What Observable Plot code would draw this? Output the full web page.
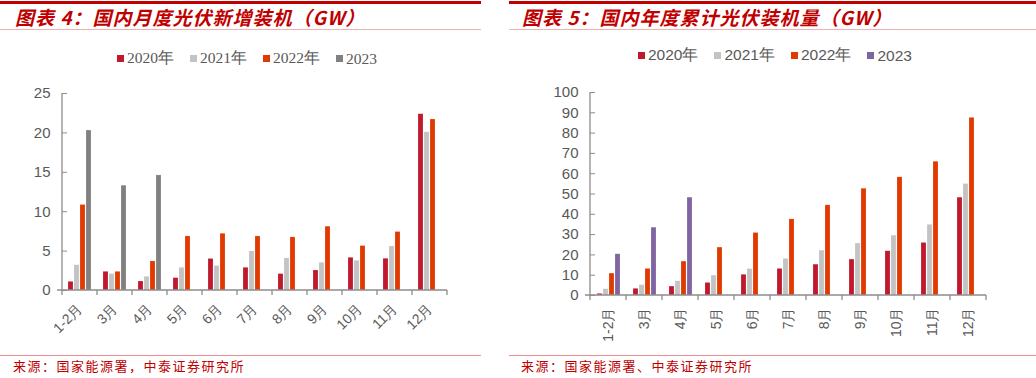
<!DOCTYPE html>
<html><head><meta charset="utf-8">
<script src="https://cdn.jsdelivr.net/npm/d3@7"></script>
<script src="https://cdn.jsdelivr.net/npm/@observablehq/plot@0.6"></script>
<style>
html,body{margin:0;padding:0;background:#fff;width:1036px;height:378px;overflow:hidden;position:relative;}
.abs{position:absolute;}
.title{font-family:"Noto Sans CJK SC",sans-serif;font-weight:bold;font-style:italic;color:#c00000;font-size:19px;letter-spacing:1.0px;white-space:nowrap;}
.src{font-family:"Noto Sans CJK SC",sans-serif;color:#c00000;font-size:13px;letter-spacing:1.5px;white-space:nowrap;}
.legend{display:flex;align-items:center;color:#595959;white-space:nowrap;}
.legend .sw{display:inline-block;width:7px;height:7px;margin-right:3px;}
.legend .it{display:flex;align-items:center;}
</style></head>
<body>
<script>
// ---------- data ----------
const months = ["1-2月","3月","4月","5月","6月","7月","8月","9月","10月","11月","12月"];
const years = ["2020年","2021年","2022年","2023"];
const monthly2020 = [1.1,2.37,1.14,1.57,4.0,2.88,2.08,2.54,4.15,4.03,22.37];
const monthly2021 = [3.2,2.08,1.74,2.88,3.1,4.96,4.07,3.52,3.77,5.59,20.08];
const monthly2022 = [10.85,2.37,3.69,6.86,7.2,6.86,6.74,8.1,5.64,7.42,21.7];
const monthly2023 = [20.3,13.3,14.6];
const cum2020 = [0.8,3.3,4.4,6.2,10.2,13.1,15.2,17.7,21.8,25.9,48.2];
const cum2021 = [3.1,5.1,7.0,9.8,13.0,18.0,22.1,25.6,29.5,34.8,54.9];
const cum2022 = [10.8,13.1,16.7,23.6,30.8,37.5,44.4,52.6,58.2,65.9,87.5];
const cum2023 = [20.3,33.4,48.2];
const leftTicks = [0,5,10,15,20,25];
const rightTicks = [0,10,20,30,40,50,60,70,80,90,100];
const colorsLeft = ["#c0192e","#c3c3c3","#e03a00","#808080"];
const colorsRight = ["#c0192e","#c3c3c3","#e03a00","#8064a2"];

function rows(series){
  const out=[];
  series.forEach((s,yi)=>s.forEach((v,mi)=>{ if(v!=null) out.push({month:months[mi],year:years[yi],value:v}); }));
  return out;
}

function el(cls, css, html){
  const d=document.createElement("div"); d.className="abs "+cls; Object.assign(d.style,css); d.innerHTML=html; document.body.appendChild(d); return d;
}

// decorative lines
function line(l,t,w,h,c){ el("",{left:l+"px",top:t+"px",width:w+"px",height:h+"px",background:c},""); }
line(0,1,481,3,"#c00000"); line(509,1,527,3,"#c00000");
line(0,29,481,1,"#f2b0b0"); line(509,29,527,1,"#f2b0b0");
line(0,355,481,1,"#e69090"); line(509,355,527,1,"#e69090");

el("title",{left:"15px",top:"3px"},"图表 4：国内月度光伏新增装机（GW）");
el("title",{left:"522px",top:"3px"},"图表 5：国内年度累计光伏装机量（GW）");
el("src",{left:"13px",top:"356px"},"来源：国家能源署，中泰证券研究所");
el("src",{left:"521px",top:"356px"},"来源：国家能源署、中泰证券研究所");

function legend(left, top, colors, font, size, gap){
  const d=el("legend",{left:left+"px",top:top+"px",fontFamily:font,fontSize:size+"px"},"");
  years.forEach((y,i)=>{
    const it=document.createElement("span"); it.className="it"; if(i>0) it.style.marginLeft=gap+"px";
    it.innerHTML=`<span class="sw" style="background:${colors[i]}"></span>${y}`;
    d.appendChild(it);
  });
}
legend(117,48,colorsLeft,"'Liberation Serif',serif",15.5,16);
legend(638,45,colorsRight,"'Liberation Sans',Arial,sans-serif",15.5,16);

function chart(opts){
  const {data, colors, yDomain, yTicks, width, height, mL, mR, mT, mB, rotate, pad, left, top} = opts;
  const p = Plot.plot({
    width, height, marginLeft:mL, marginRight:mR, marginTop:mT, marginBottom:mB,
    style:{fontFamily:"'Liberation Sans',Arial,sans-serif",fontSize:"14px",color:"#595959",background:"transparent"},
    fx:{domain:months, paddingInner:0.28, paddingOuter:0.14, label:null, axis:"bottom", tickRotate:rotate, tickSize:0, tickPadding:pad},
    x:{domain:years, axis:null, paddingInner:0.2, paddingOuter:0},
    y:{domain:yDomain, ticks:yTicks, label:null, tickSize:5, tickPadding:12},
    color:{domain:years, range:colors},
    marks:[
      Plot.barY(data,{fx:"month", x:"year", y:"value", fill:"year", stroke:"#ffffff", strokeOpacity:0.35, strokeWidth:0.5})
    ]
  });
  p.style.position="absolute"; p.style.left=left+"px"; p.style.top=top+"px";
  document.body.appendChild(p);
  const fx=p.scale("fx"), y=p.scale("y");
  const svg=d3.select(p);
  const y0=y.apply(0), yTop=y.apply(yDomain[1]);
  const gapHalf=(fx.step-fx.bandwidth)/2;
  const bounds=months.map(m=>fx.apply(m)-gapHalf);
  bounds.push(fx.apply(months[months.length-1])+fx.bandwidth+gapHalf);
  const g=svg.append("g").attr("stroke","#8c8c8c").attr("stroke-width",1.3);
  g.append("line").attr("x1",bounds[0]).attr("x2",bounds[0]).attr("y1",yTop).attr("y2",y0);
  g.append("line").attr("x1",bounds[0]-5).attr("x2",bounds[bounds.length-1]).attr("y1",y0).attr("y2",y0);
  bounds.forEach(b=>g.append("line").attr("x1",b).attr("x2",b).attr("y1",y0).attr("y2",y0+5));
  svg.selectAll("[aria-label='y-axis tick'] path").attr("stroke","#8c8c8c");
  svg.selectAll("[aria-label='y-axis tick label']").style("font-size","15px");
  return p;
}

chart({data:rows([monthly2020,monthly2021,monthly2022,monthly2023]), colors:colorsLeft, yDomain:[0,25], yTicks:leftTicks,
  width:482, height:270, mL:60, mR:33, mT:13, mB:60, rotate:-45, pad:16, left:0, top:80});
chart({data:rows([cum2020,cum2021,cum2022,cum2023]), colors:colorsRight, yDomain:[0,100], yTicks:rightTicks,
  width:527, height:270, mL:76, mR:46, mT:12, mB:55, rotate:-90, pad:12, left:509, top:80});
</script>
</body></html>
